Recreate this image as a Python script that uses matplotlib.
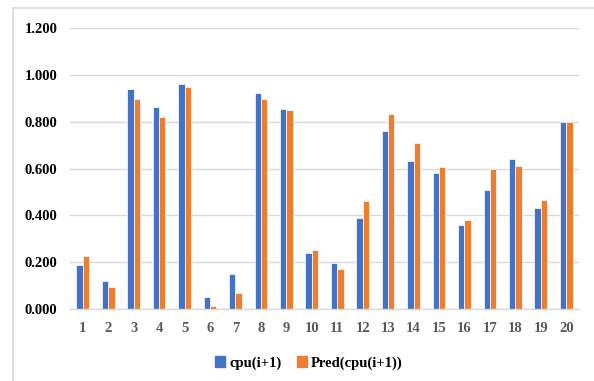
"""Clustered bar chart: actual vs predicted CPU usage."""

import matplotlib
matplotlib.use("Agg")
import matplotlib.pyplot as plt
from matplotlib.patches import Patch
import numpy as np

categories = [str(i) for i in range(1, 21)]
cpu_actual = [0.189, 0.121, 0.940, 0.862, 0.959, 0.051, 0.151, 0.922, 0.852, 0.240,
              0.199, 0.391, 0.761, 0.632, 0.580, 0.359, 0.509, 0.639, 0.430, 0.798]
cpu_pred = [0.229, 0.097, 0.896, 0.821, 0.947, 0.014, 0.070, 0.896, 0.848, 0.253,
            0.170, 0.460, 0.832, 0.710, 0.605, 0.382, 0.598, 0.609, 0.464, 0.798]
y_ticks = [0.0, 0.2, 0.4, 0.6, 0.8, 1.0, 1.2]
series_names = ["cpu(i+1)", "Pred(cpu(i+1))"]

BLUE = "#4472C4"
ORANGE = "#ED7D31"


def main() -> None:
    plt.rcParams["font.family"] = ["Liberation Serif", "DejaVu Serif"]
    plt.rcParams["font.weight"] = "bold"

    fig = plt.figure(figsize=(5.94, 3.81), dpi=100)
    # chart area border (only left and top visible in the crop)
    fig.add_artist(plt.Rectangle((13 / 594, -0.05), 1.2, 1 - 8 / 381 + 0.05,
                                 transform=fig.transFigure, fill=False,
                                 edgecolor="#D9D9D9", linewidth=1.2))

    ax = fig.add_axes([70 / 594, 1 - 309.3 / 381, 509 / 594, (309.3 - 27.7) / 381])

    x = np.arange(len(categories))
    w = 0.25
    ax.bar(x - w / 2, cpu_actual, w, color=BLUE, edgecolor="white", linewidth=0.5, zorder=3)
    ax.bar(x + w / 2, cpu_pred, w, color=ORANGE, edgecolor="white", linewidth=0.5, zorder=3)

    ax.set_xlim(-0.5, len(categories) - 0.5)
    ax.set_ylim(0, 1.2)
    ax.set_yticks(y_ticks)
    ax.set_yticklabels([f"{v:.3f}" for v in y_ticks], fontsize=10.5, fontweight="bold", color="black")
    ax.set_xticks(x)
    ax.set_xticklabels(categories, fontsize=10.5, fontweight="bold", color="#595959")
    ax.tick_params(axis="both", length=0)
    ax.tick_params(axis="y", pad=9)
    ax.tick_params(axis="x", pad=9)

    ax.grid(axis="y", color="#D9D9D9", linewidth=1.0, zorder=0)
    for side in ["top", "right", "left"]:
        ax.spines[side].set_visible(False)
    ax.spines["bottom"].set_color("#D9D9D9")
    ax.spines["bottom"].set_linewidth(1.0)
    ax.spines["bottom"].set_zorder(4)

    handles = [Patch(color=BLUE), Patch(color=ORANGE)]
    fig.legend(handles, series_names, loc="center", bbox_to_anchor=(309 / 594, 1 - 363 / 381),
               ncol=2, frameon=False, prop={"weight": "bold", "size": 10.5},
               handlelength=0.7, handleheight=0.7, handletextpad=0.3, columnspacing=1.0)

    fig.savefig("out.png", dpi=100)
    plt.close(fig)


if __name__ == "__main__":
    main()
